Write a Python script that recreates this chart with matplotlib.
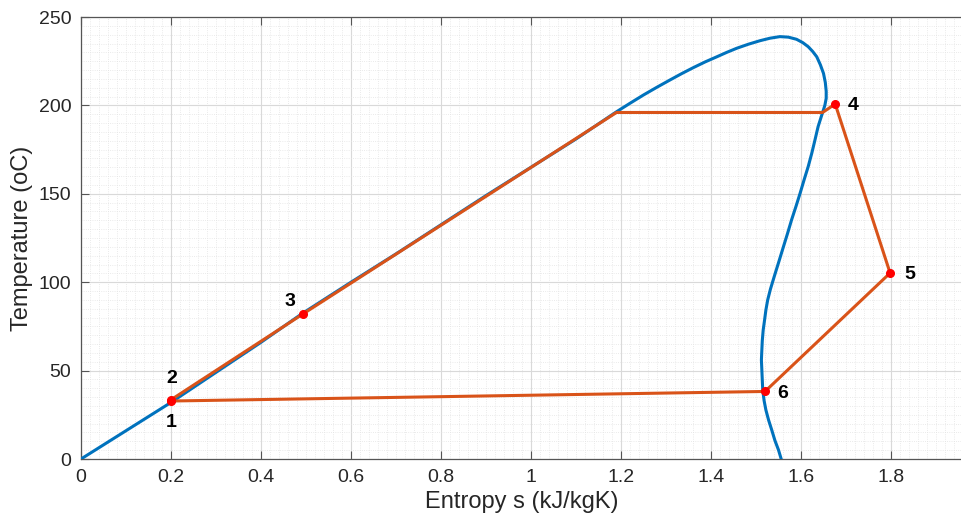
import matplotlib
matplotlib.use("Agg")
import matplotlib.pyplot as plt
from matplotlib.ticker import MultipleLocator

# saturation dome
s_dome = [0, 0.1, 0.2, 0.3, 0.4, 0.49, 0.6, 0.7, 0.8, 0.9, 1.0, 1.1, 1.19,
          1.22, 1.25, 1.28, 1.309, 1.335, 1.361, 1.387, 1.413, 1.435, 1.457,
          1.483, 1.509, 1.531, 1.553, 1.572, 1.590, 1.604, 1.616, 1.626,
          1.635, 1.643, 1.650, 1.654, 1.656, 1.656, 1.653, 1.648, 1.643,
          1.638, 1.631, 1.624, 1.616, 1.607, 1.598, 1.589,
          1.579, 1.570, 1.561, 1.551, 1.541, 1.532, 1.526, 1.522, 1.519,
          1.516, 1.514, 1.513, 1.512, 1.513, 1.514, 1.515, 1.518, 1.522,
          1.528, 1.535, 1.542, 1.550, 1.556]
T_dome = [0, 16, 32, 49, 66, 82, 100, 116, 132.5, 149, 165, 181, 196.4,
          201.2, 205.9, 210.3, 214.4, 218.0, 221.4, 224.6, 227.5, 230.0, 232.3,
          234.6, 236.6, 238.0, 238.9, 238.6, 237.4, 235.5, 233.2, 230.5,
          227.5, 223.0, 218.1, 213.0, 208.0, 204.0, 200.0, 196.0, 192.0,
          188.0, 180.4, 173.0, 165.4, 158.0, 150.3, 143.0,
          135.2, 127.5, 120.1, 111.8, 103.6, 96.0, 90.0, 84.3, 78.5,
          73.0, 67.0, 61.7, 56.0, 50.3, 44.5, 39.0, 33.0, 27.7,
          22.0, 16.4, 10.5, 5.1, 0]

# cycle path
s_cycle = [0.2, 0.2, 0.493, 1.19, 1.648, 1.676, 1.798, 1.52, 0.2]
T_cycle = [32.8, 33.5, 82, 196, 196, 200.8, 105.2, 38.2, 32.8]

# state points and labels
s_state = [0.2, 0.2, 0.493, 1.676, 1.798, 1.52]
T_state = [32.8, 33.5, 82, 200.8, 105.2, 38.2]
state_labels = ["1", "2", "3", "4", "5", "6"]
label_offsets = [(0, -21), (1, 21), (-13, 13), (18, -2), (20, -1), (18, -2)]

plt.rcParams["font.family"] = ["Liberation Sans", "DejaVu Sans"]

fig = plt.figure(figsize=(9.62, 5.21), dpi=100)
ax = fig.add_axes([81 / 962, 62 / 521, 881 / 962, 442 / 521])

ax.plot(s_dome, T_dome, color="#0072BD", lw=2.2, zorder=3)
ax.plot(s_cycle, T_cycle, color="#D95319", lw=2.2, zorder=4)
ax.plot(s_state, T_state, "o", color="red", ms=5.5, zorder=5)

for lab, x, y, off in zip(state_labels, s_state, T_state, label_offsets):
    ax.annotate(lab, (x, y), xytext=off, textcoords="offset pixels",
                ha="center", va="center", fontsize=14, fontweight="bold",
                color="black", zorder=6)

ax.set_xlim(0, 881 / 450)
ax.set_ylim(0, 250)
ax.xaxis.set_minor_locator(MultipleLocator(0.02))
ax.yaxis.set_major_locator(MultipleLocator(50))
ax.yaxis.set_minor_locator(MultipleLocator(5))
ax.set_xticks([0, 0.2, 0.4, 0.6, 0.8, 1, 1.2, 1.4, 1.6, 1.8])
ax.set_xticklabels(["0", "0.2", "0.4", "0.6", "0.8", "1", "1.2", "1.4", "1.6", "1.8"])

ax.grid(which="major", color="#d9d9d9", lw=0.8, ls="-")
ax.grid(which="minor", color="#e3e3e3", lw=0.6, ls=":")
ax.set_axisbelow(True)

for side in ["left", "bottom", "top"]:
    ax.spines[side].set_color("#555555")
    ax.spines[side].set_linewidth(0.9)
ax.spines["right"].set_visible(False)
ax.tick_params(which="major", direction="in", length=6, top=True, right=False,
               color="#555555", labelsize=14, labelcolor="#262626", pad=7)
ax.tick_params(which="minor", length=0)

ax.set_xlabel("Entropy s (kJ/kgK)", fontsize=17, color="#262626", labelpad=4)
ax.set_ylabel("Temperature (oC)", fontsize=17, color="#262626", labelpad=4)

fig.savefig("out.png", dpi=100)
